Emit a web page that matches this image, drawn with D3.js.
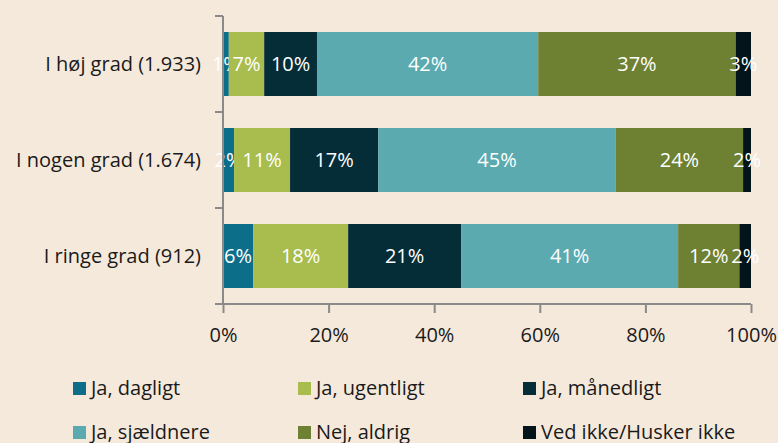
<html>
<head>
<meta charset="utf-8">
<script src="https://d3js.org/d3.v7.min.js" charset="utf-8"></script>
<style>
  body { margin: 0; background: #f5e9dc; }
  text { font-family: "Open Sans", "Noto Sans", sans-serif; }
</style>
</head>
<body>
<script>
// Data
var categories = ["I høj grad (1.933)", "I nogen grad (1.674)", "I ringe grad (912)"];
var seriesNames = ["Ja, dagligt", "Ja, ugentligt", "Ja, månedligt", "Ja, sjældnere", "Nej, aldrig", "Ved ikke/Husker ikke"];
var seriesColors = ["#0d6e8a", "#a8bd4d", "#052d38", "#5aaab0", "#6e8133", "#03141a"];
var dagligt    = [1.1, 2.1, 5.7];
var ugentligt  = [6.7, 10.6, 18.0];
var maanedligt = [10.0, 16.7, 21.4];
var sjaeldnere = [41.9, 45.0, 41.1];
var aldrig     = [37.4, 24.1, 11.6];
var vedIkke    = [2.9, 1.5, 2.2];
var xTicks = [0, 20, 40, 60, 80, 100];

var width = 778, height = 443;
var plotLeft = 223, plotRight = 751, plotTop = 16, plotBottom = 304;
var fontSize = 20;

var svg = d3.select("body").append("svg")
    .attr("width", width)
    .attr("height", height);

svg.append("rect").attr("width", width).attr("height", height).attr("fill", "#f5e9dc");

var x = d3.scaleLinear().domain([0, 100]).range([plotLeft, plotRight]);
var y = d3.scaleBand().domain(categories).range([plotTop, plotBottom]).paddingInner(1/3).paddingOuter(1/6);

// build rows for the stack
var allSeries = [dagligt, ugentligt, maanedligt, sjaeldnere, aldrig, vedIkke];
var rows = categories.map(function(c, i) {
    var r = { cat: c };
    seriesNames.forEach(function(s, j) { r[s] = allSeries[j][i]; });
    return r;
});
var stacked = d3.stack().keys(seriesNames)(rows);

var layers = svg.selectAll("g.layer").data(stacked).enter().append("g")
    .attr("class", "layer")
    .attr("fill", function(d, i) { return seriesColors[i]; });

layers.selectAll("rect").data(function(d) { return d; }).enter().append("rect")
    .attr("x", function(d) { return x(d[0]); })
    .attr("y", function(d) { return y(d.data.cat); })
    .attr("width", function(d) { return x(d[1]) - x(d[0]); })
    .attr("height", y.bandwidth());

// value labels
layers.selectAll("text").data(function(d) { return d; }).enter().append("text")
    .attr("x", function(d) { return (x(d[0]) + x(d[1])) / 2; })
    .attr("y", function(d) { return y(d.data.cat) + y.bandwidth() / 2; })
    .attr("dy", "0.36em")
    .attr("text-anchor", "middle")
    .attr("fill", "#ffffff")
    .attr("font-size", fontSize)
    .text(function(d) { return Math.round(d[1] - d[0]) + "%"; });

// y axis with ticks between bands
var axisColor = "#8a8a8a";
svg.append("line").attr("x1", plotLeft).attr("x2", plotLeft).attr("y1", plotTop).attr("y2", plotBottom)
    .attr("stroke", axisColor).attr("stroke-width", 2);
var bandEdges = [plotTop].concat(categories.map(function(c) { return y(c) + y.bandwidth() + y.step() * y.paddingInner() / 2; }));
svg.selectAll("line.ytick").data(bandEdges).enter().append("line")
    .attr("class", "ytick")
    .attr("x1", plotLeft - 8).attr("x2", plotLeft)
    .attr("y1", function(d) { return d; }).attr("y2", function(d) { return d; })
    .attr("stroke", axisColor).attr("stroke-width", 2);

svg.selectAll("text.ylab").data(categories).enter().append("text")
    .attr("class", "ylab")
    .attr("x", plotLeft - 22)
    .attr("y", function(d) { return y(d) + y.bandwidth() / 2; })
    .attr("dy", "0.36em")
    .attr("text-anchor", "end")
    .attr("fill", "#1a1a1a")
    .attr("font-size", fontSize)
    .text(function(d) { return d; });

// x axis
var xAxis = svg.append("g")
    .attr("transform", "translate(0," + plotBottom + ")")
    .call(d3.axisBottom(x).tickValues(xTicks).tickSize(9).tickSizeOuter(0).tickFormat(function(d) { return d + "%"; }));
xAxis.select(".domain").attr("stroke", axisColor).attr("stroke-width", 2).attr("d", "M" + (plotLeft - 7) + ",0H" + plotRight);
xAxis.selectAll(".tick line").attr("stroke", axisColor).attr("stroke-width", 2);
xAxis.selectAll(".tick text").attr("fill", "#1a1a1a").attr("font-size", fontSize)
    .attr("font-family", "'Open Sans', 'Noto Sans', sans-serif").attr("dy", "1.3em");

// legend
var legend = svg.selectAll("g.legend").data(seriesNames).enter().append("g")
    .attr("class", "legend")
    .attr("transform", function(d, i) { return "translate(" + (73 + (i % 3) * 225) + "," + (388 + Math.floor(i / 3) * 44) + ")"; });
legend.append("rect").attr("x", 0).attr("y", -6).attr("width", 13).attr("height", 13)
    .attr("fill", function(d, i) { return seriesColors[i]; });
legend.append("text").attr("x", 18).attr("y", 0).attr("dy", "0.36em")
    .attr("fill", "#1a1a1a").attr("font-size", fontSize)
    .text(function(d) { return d; });
</script>
</body>
</html>
